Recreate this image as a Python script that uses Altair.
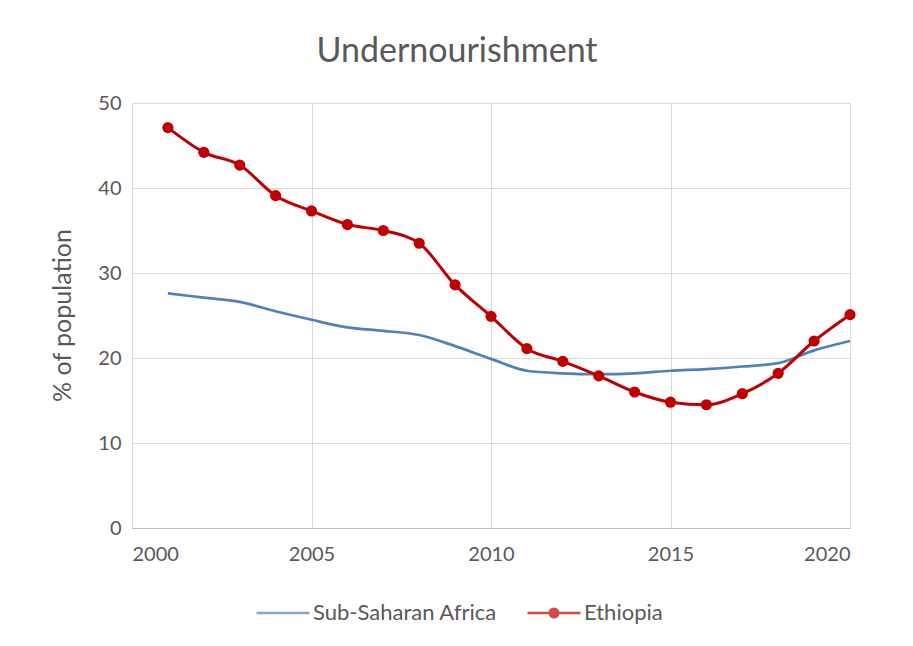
import altair as alt
import pandas as pd

years = list(range(2001, 2021))
ethiopia = [47.1, 44.2, 42.7, 39.1, 37.3, 35.7, 35.0, 33.5, 28.6, 24.9,
            21.1, 19.6, 17.9, 16.0, 14.8, 14.5, 15.8, 18.2, 22.0, 25.1]
ssa = [27.6, 27.1, 26.6, 25.5, 24.5, 23.6, 23.2, 22.7, 21.4, 19.9,
       18.5, 18.2, 18.1, 18.2, 18.5, 18.7, 19.0, 19.4, 20.9, 22.0]
series_names = ["Sub-Saharan Africa", "Ethiopia"]
series_colors = ["#4F81BD", "#C00000"]
x_ticks = [2000, 2005, 2010, 2015, 2020]
y_ticks = [0, 10, 20, 30, 40, 50]

df = pd.DataFrame({
    "year": years * 2,
    "value": ssa + ethiopia,
    "series": [series_names[0]] * len(years) + [series_names[1]] * len(years),
})

FONT = "Lato"
TXT = "#595959"

x_enc = alt.X("year:Q", scale=alt.Scale(domain=[2000, 2020], nice=False),
              axis=alt.Axis(values=x_ticks, format="d", title=None, grid=True,
                            gridColor="#D9D9D9", domainColor="#BFBFBF", ticks=False,
                            labelFont=FONT, labelFontSize=20, labelColor=TXT,
                            labelPadding=16))
y_enc = alt.Y("value:Q", scale=alt.Scale(domain=[0, 50], nice=False),
              axis=alt.Axis(values=y_ticks, title="% of population", grid=True,
                            gridColor="#D9D9D9", domain=False, ticks=False,
                            labelFont=FONT, labelFontSize=20, labelColor=TXT,
                            labelPadding=11, titleFont=FONT, titleFontSize=25,
                            titleFontWeight="normal", titleColor=TXT,
                            titleX=-70, titleY=212, titleAngle=270,
                            titleBaseline="middle", titleAlign="center"))

base = alt.Chart(df)

ssa_line = base.transform_filter(alt.datum.series == series_names[0]).mark_line(
    color=series_colors[0], strokeWidth=2.7, interpolate="monotone"
).encode(x=x_enc, y=y_enc)

eth_line = base.transform_filter(alt.datum.series == series_names[1]).mark_line(
    color=series_colors[1], strokeWidth=3, interpolate="monotone"
).encode(x=x_enc, y=y_enc)

eth_pts = base.transform_filter(alt.datum.series == series_names[1]).mark_circle(
    color=series_colors[1], size=125, opacity=1
).encode(x=x_enc, y=y_enc)

ssa_path = "M-1,0L1,0"
eth_path = ("M-1,0L1,0"
            "M0.16,0A0.16,0.16,0,1,1,-0.16,0A0.16,0.16,0,1,1,0.16,0"
            "M0.075,0A0.075,0.075,0,1,1,-0.075,0A0.075,0.075,0,1,1,0.075,0"
            "M0.02,0A0.02,0.02,0,1,1,-0.02,0A0.02,0.02,0,1,1,0.02,0")

leg = alt.Legend(orient="none", legendX=123, legendY=482, direction="horizontal",
                 title=None, symbolSize=2809, symbolStrokeWidth=2.5,
                 labelFont=FONT, labelFontSize=22, labelColor=TXT, labelLimit=400,
                 labelOffset=2, columnPadding=25)

legend_layer = base.transform_filter("datum.value < -1000").mark_point(
    filled=False, strokeWidth=2.5
).encode(
    x=x_enc, y=y_enc,
    color=alt.Color("series:N", scale=alt.Scale(domain=series_names, range=series_colors), legend=leg),
    shape=alt.Shape("series:N", scale=alt.Scale(domain=series_names, range=[ssa_path, eth_path]), legend=leg),
)

chart = alt.layer(ssa_line, eth_line, eth_pts, legend_layer).properties(
    width=718, height=425,
    title=alt.TitleParams("Undernourishment", font=FONT, fontSize=34,
                          fontWeight="normal", color=TXT, anchor="middle",
                          offset=24, dx=-34),
    autosize=alt.AutoSizeParams(type="none"),
    padding={"left": 124, "top": 95, "right": 55, "bottom": 110},
).configure_view(stroke="transparent")

chart.save("out.html", embed_options={"renderer": "svg", "actions": False})
